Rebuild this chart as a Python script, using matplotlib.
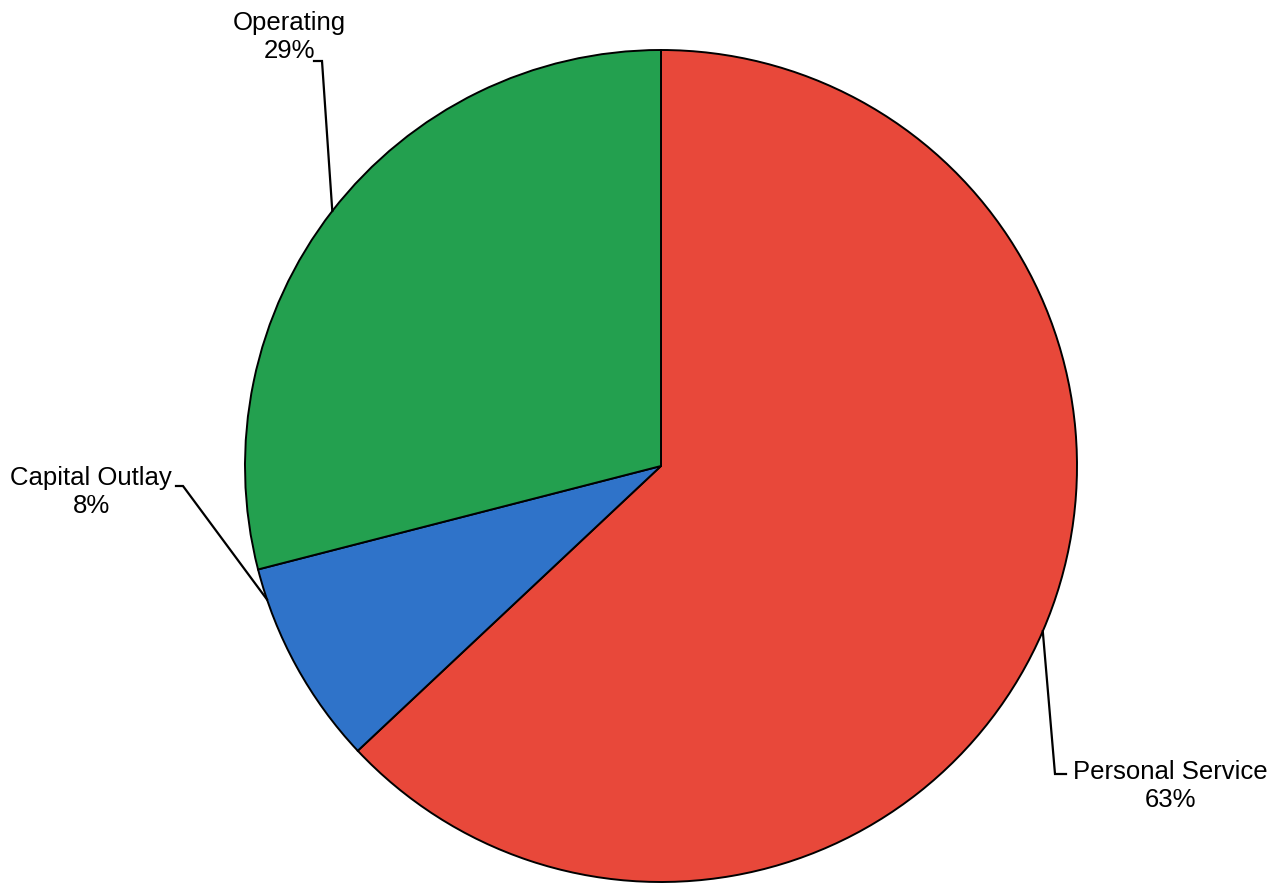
import numpy as np
import matplotlib.pyplot as plt

# budget shares by category
labels = ["Personal Service", "Capital Outlay", "Operating"]
shares = [63, 8, 29]
colors = ["#E8483A", "#2F73C9", "#23A04F"]

# label text placement and leader elbow (pixel coords, y up)
text_pos = [(1170, 101), (91, 395), (289, 850)]
elbow = [(1055, 112), (183, 400), (322, 825)]
tail = [(1066, 112), (176, 400), (314, 825)]
# where along each wedge's arc the leader touches (0 = theta1, 1 = theta2)
anchor = [0.5, 0.15, 0.5]

W, H = 1279, 887
cx, cy, r = 661, 420, 416

plt.rcParams["font.family"] = ["Liberation Sans", "DejaVu Sans"]

fig = plt.figure(figsize=(W / 100, H / 100), dpi=100)
ax = fig.add_axes([0, 0, 1, 1])

wedges, _ = ax.pie(shares, colors=colors, startangle=90, counterclock=False,
                   center=(cx, cy), radius=r,
                   wedgeprops=dict(edgecolor="black", linewidth=1.4))

# axes spans the whole canvas in pixel units
ax.set_xlim(0, W)
ax.set_ylim(0, H)
ax.set_aspect("equal")
ax.axis("off")

for w, lab, val, tp, el, tl, f in zip(wedges, labels, shares, text_pos,
                                      elbow, tail, anchor):
    ang = np.deg2rad(w.theta1 + f * (w.theta2 - w.theta1))
    ex = cx + r * np.cos(ang)
    ey = cy + r * np.sin(ang)
    ax.plot([ex, el[0], tl[0]], [ey, el[1], tl[1]], color="black", lw=1.6,
            solid_joinstyle="miter")
    ax.text(tp[0], tp[1], f"{lab}\n{val}%", ha="center", va="center",
            multialignment="center", fontsize=18.5)

fig.savefig("out.png", dpi=100)
